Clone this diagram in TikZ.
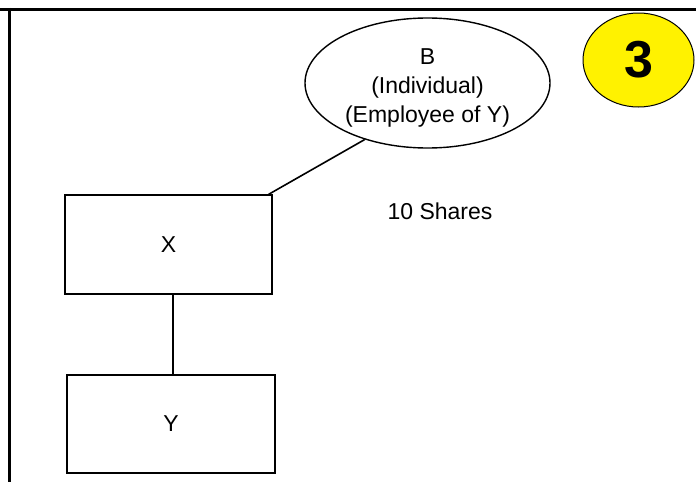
\documentclass[tikz,border=0pt]{standalone}
\usepackage{fontspec}
\setmainfont{Liberation Sans}
\usetikzlibrary{shapes.geometric}
\begin{document}
\begin{tikzpicture}[x=1pt,y=-1pt,
  frameline/.style={line width=3.5pt},
  entity/.style={draw, line width=1.4pt, rectangle, inner sep=0pt, font=\fontsize{23}{28}\selectfont},
  person/.style={draw, line width=1.4pt, ellipse, inner sep=0pt},
  persontext/.style={inner sep=0pt, align=center, font=\fontsize{23}{29}\selectfont},
  link/.style={line width=1.6pt},
  badge/.style={draw, line width=1pt, fill=yellow, ellipse, inner sep=0pt, font=\fontsize{52}{60}\selectfont\bfseries}]
\useasboundingbox (0,0) rectangle (696,482);
\coordinate (tl) at (0,9.5);
\coordinate (tr) at (696,9.5);
\coordinate (ct) at (9.5,7.75);
\coordinate (cb) at (9.5,482);
\draw[frameline] (tl) -- (tr);
\draw[frameline] (ct) -- (cb);
\node[person, minimum width=245pt, minimum height=130pt] (B) at (427.5,83) {};
\node[persontext] (Btext) at (427.5,88) {B\\(Individual)\\(Employee of Y)};
\node[badge, minimum width=111pt, minimum height=94pt] (three) at (638.5,60) {3};
\node[entity, minimum width=207pt, minimum height=99pt] (X) at (168.5,244.5) {X};
\node[entity, minimum width=208pt, minimum height=98pt] (Y) at (171,424) {Y};
\node[font=\fontsize{23}{28}\selectfont] (shares) at (440,211) {10 Shares};
\coordinate (xc) at ([xshift=-4pt]X.north east);
\draw[link] (xc) -- (B.222);
\draw[link] (X.south -| 173,0) -- (Y.north -| 173,0);
\end{tikzpicture}
\end{document}
